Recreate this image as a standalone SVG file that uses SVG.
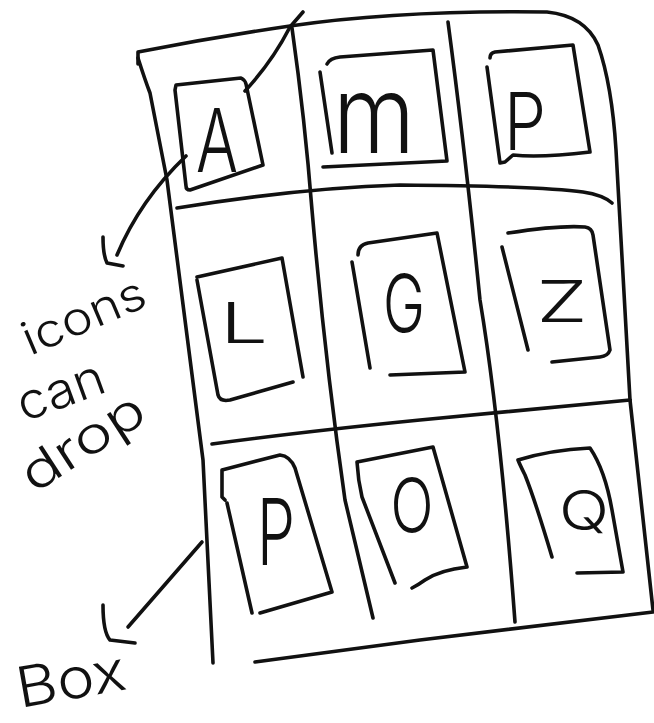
<svg xmlns="http://www.w3.org/2000/svg" width="654" height="723" viewBox="0 0 654 723">
<style>
.s{fill:none;stroke:#111;stroke-width:3.6;stroke-linecap:round;stroke-linejoin:round}
.t{font-family:Inter,"Liberation Sans",sans-serif;font-weight:300;fill:#111}
.h{font-family:Inter,"Liberation Sans",sans-serif;font-weight:300;fill:#111}
</style>
<rect width="654" height="723" fill="#fff"/>
<g id="frame">
<path class="s" d="M138,64 L138,52 Q215,37 290,26 Q400,10 547,12 Q585,16 598,45 Q612,85 616,150 L630,400 L653,610"/>
<path class="s" d="M138,58 Q145,80 150,93 L167,180 L203,460 L213,663"/>
<path class="s" d="M255,662 L420,640 L653,612"/>
</g>
<g id="grid">
<path class="s" d="M292,28 Q305,120 312,210 Q325,360 345,500 L373,618"/>
<path class="s" d="M448,22 Q465,150 480,300 Q500,420 515,622"/>
<path class="s" d="M177,208 Q300,188 400,185 Q540,186 583,192 Q603,195 612,203"/>
<path class="s" d="M212,444 Q300,432 420,420 L630,400"/>
</g>
<g id="icon-A">
<path class="s" d="M176,85 L241,78 Q245,80 246,84 L263,165 L190,190 Q186,190 186,186 L175,90 Z"/>
<text class="t" x="217" y="172" font-size="88" text-anchor="middle" textLength="42" lengthAdjust="spacingAndGlyphs">A</text>
</g>
<g id="icon-m">
<path class="s" d="M320,72 L332,153 M327,64 Q330,58 340,57 L433,50 L447,161 L323,167"/>
<text class="t" x="374" y="153" font-size="108" text-anchor="middle" textLength="82" lengthAdjust="spacingAndGlyphs">m</text>
</g>
<g id="icon-P1">
<path class="s" d="M487,67 L500,163 L505,162 L513,155 Q540,158 590,152 L573,45 L495,52 Q490,53 490,58"/>
<text class="t" x="525" y="150" font-size="80" text-anchor="middle" textLength="42" lengthAdjust="spacingAndGlyphs">P</text>
</g>
<g id="icon-L">
<path class="s" d="M197,277 L282,258 L303,377 M293,382 L230,400 Q220,402 218,395 L197,280"/>
<text class="t" x="244" y="343" font-size="56" text-anchor="middle" textLength="48" lengthAdjust="spacingAndGlyphs">L</text>
</g>
<g id="icon-G">
<path class="s" d="M358,255 Q358,245 368,243 L437,233 L465,372 L390,375 M352,262 L370,368"/>
<text class="t" x="404" y="332" font-size="80" text-anchor="middle" textLength="42" lengthAdjust="spacingAndGlyphs">G</text>
</g>
<g id="icon-Z">
<path class="s" d="M508,233 Q560,225 585,227 Q592,228 593,235 L610,350 Q608,356 600,357 L552,362 M502,247 L528,350"/>
<text class="t" x="562" y="322" font-size="58" text-anchor="middle" textLength="51" lengthAdjust="spacingAndGlyphs">Z</text>
</g>
<g id="icon-P2">
<path class="s" d="M225,500 L222,497 L222,470 L280,455 Q290,456 295,468 L332,592 L260,613 M227,503 L252,613"/>
<text class="t" x="276" y="565" font-size="92" text-anchor="middle" textLength="38" lengthAdjust="spacingAndGlyphs">P</text>
</g>
<g id="icon-O">
<path class="s" d="M395,583 L362,497 Q358,480 357,462 L433,447 L467,567 Q440,570 425,580 Q418,585 412,588"/>
<text class="t" x="412" y="532" font-size="74" text-anchor="middle" textLength="43" lengthAdjust="spacingAndGlyphs">O</text>
</g>
<g id="icon-Q">
<path class="s" d="M552,557 Q535,500 525,475 Q520,465 518,460 Q550,450 590,448 Q605,470 612,510 L623,572 L577,573"/>
<text class="t" x="584" y="530" font-size="55" text-anchor="middle" textLength="50" lengthAdjust="spacingAndGlyphs">Q</text>
</g>
<g id="label-icons-can-drop">
<text class="h" x="30" y="356" font-size="46" transform="rotate(-23 30 356)" textLength="130" lengthAdjust="spacingAndGlyphs">icons</text>
<text class="h" x="24" y="422" font-size="50" transform="rotate(-20 24 422)" textLength="90" lengthAdjust="spacingAndGlyphs">can</text>
<text class="h" x="34" y="494" font-size="50" transform="rotate(-33 34 494)" textLength="138" lengthAdjust="spacingAndGlyphs">drop</text>
</g>
<g id="label-box">
<text class="h" x="20" y="708" font-size="56" transform="rotate(-10 20 708)" textLength="110" lengthAdjust="spacingAndGlyphs">Box</text>
</g>
<g id="connectors">
<path class="s" d="M245,91 Q272,62 290,27 L303,12"/>
<path class="s" d="M186,156 Q140,200 117,255"/>
<path class="s" d="M103,237 Q103,255 107,263 L123,266"/>
<path class="s" d="M202,542 L128,627"/>
<path class="s" d="M103,605 Q103,632 110,640 L135,643"/>
</g>
</svg>
